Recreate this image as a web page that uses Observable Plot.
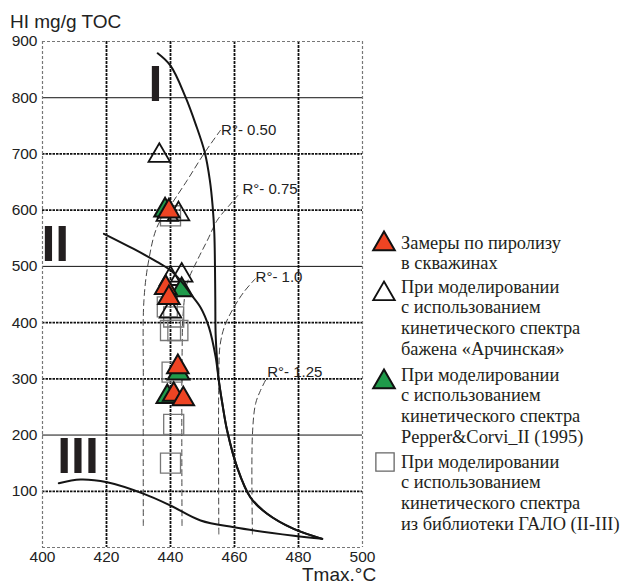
<!DOCTYPE html>
<html><head><meta charset="utf-8">
<script src="https://cdn.jsdelivr.net/npm/d3@7"></script>
<script src="https://cdn.jsdelivr.net/npm/@observablehq/plot@0.6"></script>
<style>
body{margin:0;background:#fff;}
#wrap{position:relative;width:624px;height:588px;font-family:"Liberation Sans",Arial,sans-serif;color:#222;}
.ttl{position:absolute;font-size:19px;line-height:20px;white-space:nowrap;}
.leg{position:absolute;left:401px;font-family:"Liberation Serif","Times New Roman",serif;font-size:18.4px;line-height:20.7px;color:#231f20;white-space:nowrap;}
#legsym{position:absolute;left:0;top:0;}
</style></head>
<body><div id="wrap"></div>
<script>
// ---- data ----
const xTicks = [400,420,440,460,480,500];
const yTicks = [100,200,300,400,500,600,700,800,900];
const gridT = [420,440,460,480];
const solidHI = [800,500,200];
const dottedHI = [700,600,400,300,100];

// measured samples (Tmax, HI)
const redT = [439.5, 438.5, 439.5, 442.3, 441, 444];
const redHI = [598, 462, 444, 321, 272, 264];
const greenT = [438.3, 443.5, 442.5, 439];
const greenHI = [600, 458, 310, 268];
const openT = [436.5, 439, 442.5, 440, 443.5, 440];
const openHI = [697, 592, 593, 478, 484, 420];
const squareT = [440, 439, 441, 440, 442.3, 440.5, 441, 440];
const squareHI = [590, 428, 410, 386, 386, 312, 219, 150];

// kerogen type boundary curves
const typeIT = [436,440,444.7,447.8,450.7,452.3,453.2,453.7,453.9,454.0,454.1,454.6,455.1,456.2,457.7,460.8,465,470.2,478.5,487.4];
const typeIHI = [879,857,801,754,703,653,605,558,499,439,380,330,297,256,208,143,89,60,33,15.4];
const typeIIT = [419.2,428.5,435.8,440,443.1,446.3,449.4,452,454.1,455.1,456.2,457.7,460.8,465,470.2,478.5,487.4];
const typeIIHI = [558,531,508,493,475,451,427,392,339,297,256,208,143,89,60,33,15.4];
const typeIIIT = [405.1,411.9,420.2,431.7,440,449.4,459.8,478.5,487.4];
const typeIIIHI = [114.4,121,116,95.4,74.7,48,36,21,15.4];

// vitrinite reflectance isolines
const ro050T = [431.5,431.5,431.7,433.2,435.8,440,445.2,450.4,455.6];
const ro050HI = [39,300,440,511,570,608,653,700,742];
const ro075T = [443.6,443.6,444,445.2,448.3,451.5,454.6,458.75,461];
const ro075HI = [39,330,420,470,510,546,582,611,626];
const ro100T = [455.1,455.1,455.5,457,459.8,463,466.5];
const ro100HI = [24,300,360,395,427,455,478];
const ro125T = [465.6,465.6,466.6,468.1,470.2];
const ro125HI = [24,200,256,279,303];

const roLabels = ["R°- 0.50","R°- 0.75","R°- 1.0","R°- 1.25"];
const roLabelT = [455.8,462.5,466.6,470.2];
const roLabelHI = [742,638,480,311];

const romanLabels = ["I","II","III"];
const romanT = [435.3,404,411.1];
const romanHI = [795,509,132];

const legendLabels = [
  ["Замеры по пиролизу","в скважинах"],
  ["При моделировании","с использованием","кинетического спектра","бажена «Арчинская»"],
  ["При моделировании","с использованием","кинетического спектра","Pepper&Corvi_II (1995)"],
  ["При моделировании","с использованием","кинетического спектра","из библиотеки ГАЛО (II-III)"]
];

// ---- build ----
const pts = (xs, ys) => xs.map((x, i) => ({x, y: ys[i]}));
const txt = (ls, xs, ys) => ls.map((t, i) => ({t, x: xs[i], y: ys[i]}));
const RED = "#ee4423", GREEN = "#1f9a4a";

const roStyle = {x:"x", y:"y", stroke:"#444", strokeWidth:1, strokeDasharray:"6,4", curve:"catmull-rom"};
const curveStyle = {x:"x", y:"y", stroke:"#151515", strokeWidth:2, curve:"catmull-rom"};

const chart = Plot.plot({
  width:624, height:588,
  marginLeft:42, marginRight:262, marginTop:41, marginBottom:41,
  x:{domain:[400,500]}, y:{domain:[0,900]},
  style:{fontFamily:"Liberation Sans, Arial, sans-serif", fontSize:"15px", color:"#222", background:"transparent", overflow:"visible"},
  marks:[
    Plot.ruleY(dottedHI, {stroke:"#111", strokeWidth:1.8, strokeDasharray:"2.5,1"}),
    Plot.ruleY(solidHI, {stroke:"#111", strokeWidth:1}),
    Plot.ruleX(gridT, {stroke:"#111", strokeWidth:1.8, strokeDasharray:"3,1"}),
    Plot.ruleX([400,500], {stroke:"#777", strokeWidth:1.2, strokeDasharray:"3,2"}),
    Plot.ruleY([0,900], {stroke:"#777", strokeWidth:1.2, strokeDasharray:"3,2"}),
    Plot.line(pts(ro050T, ro050HI), roStyle),
    Plot.line(pts(ro075T, ro075HI), roStyle),
    Plot.line(pts(ro100T, ro100HI), roStyle),
    Plot.line(pts(ro125T, ro125HI), roStyle),
    Plot.text(txt(romanLabels, romanT, romanHI), {x:"x", y:"y", text:"t", fontSize:50, fontWeight:"bold", lineAnchor:"bottom", textAnchor:"middle", fill:"#231f20"}),
    Plot.dot(pts(squareT, squareHI), {x:"x", y:"y", symbol:"square", r:11.3, stroke:"#777", strokeWidth:1.3, fill:"none"}),
    Plot.dot(pts(openT, openHI), {x:"x", y:"y", symbol:"triangle", r:8, stroke:"#111", strokeWidth:1.8, fill:"none"}),
    Plot.dot(pts(greenT, greenHI), {x:"x", y:"y", symbol:"triangle", r:8, stroke:"#111", strokeWidth:2, fill:GREEN}),
    Plot.dot(pts(redT, redHI), {x:"x", y:"y", symbol:"triangle", r:8, stroke:"#111", strokeWidth:2, fill:RED}),
    Plot.line(pts(typeIT, typeIHI), curveStyle),
    Plot.line(pts(typeIIT, typeIIHI), curveStyle),
    Plot.line(pts(typeIIIT, typeIIIHI), curveStyle),
    Plot.text(txt(roLabels, roLabelT, roLabelHI), {x:"x", y:"y", text:"t", fontSize:15, textAnchor:"start", lineAnchor:"middle", fill:"#222"}),
    Plot.axisX({ticks:xTicks, tickSize:0, tickPadding:3, fontSize:15.5, label:null}),
    Plot.axisY({ticks:yTicks, tickSize:0, tickPadding:5, fontSize:15.5, label:null})
  ]
});

const wrap = document.getElementById("wrap");
wrap.appendChild(chart);

function addDiv(cls, text, left, top) {
  const d = document.createElement("div");
  d.className = cls; d.textContent = text;
  d.style.left = left + "px"; d.style.top = top + "px";
  wrap.appendChild(d); return d;
}
addDiv("ttl", "HI mg/g TOC", 10, 12);
addDiv("ttl", "Tmax.°C", 302, 565);

// legend
const legTops = [232.5, 276.5, 364.5, 451.5];
legendLabels.forEach((lines, i) => {
  const d = document.createElement("div");
  d.className = "leg";
  d.style.top = legTops[i] + "px";
  d.innerHTML = lines.map(l => l.replace(/&/g,"&amp;")).join("<br>");
  wrap.appendChild(d);
});
const sym = d3.select(wrap).append("svg").attr("id","legsym").attr("width",624).attr("height",588)
  .style("pointer-events","none");
const tri = d3.symbol(d3.symbolTriangle, Math.PI * 8 * 8)();
const sq = d3.symbol(d3.symbolSquare, Math.PI * 10.3 * 10.3)();
const legSyms = [
  {p:tri, fill:RED, stroke:"#111", sw:2, cx:384, cy:244},
  {p:tri, fill:"#fff", stroke:"#111", sw:1.8, cx:384, cy:294},
  {p:tri, fill:GREEN, stroke:"#111", sw:2, cx:384, cy:382},
  {p:sq, fill:"#fff", stroke:"#666", sw:1.3, cx:385, cy:462}
];
legSyms.forEach(s => sym.append("path").attr("d", s.p).attr("transform", `translate(${s.cx},${s.cy})`)
  .attr("fill", s.fill).attr("stroke", s.stroke).attr("stroke-width", s.sw));
</script>
</body></html>
